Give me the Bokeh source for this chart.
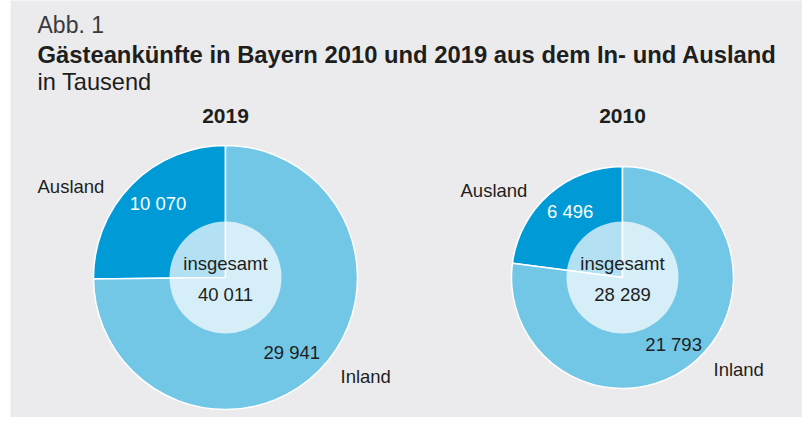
import math
from bokeh.plotting import figure
from bokeh.models import Range1d
from bokeh.embed import file_html
from bokeh.resources import INLINE
from bokeh.core.properties import value

# ---- data ----
years = ["2019", "2010"]
ausland = [10070, 6496]
inland = [29941, 21793]
totals = [40011, 28289]
categories = ["Ausland", "Inland"]
center_word = "insgesamt"
fig_label = "Abb. 1"
title = "Gästeankünfte in Bayern 2010 und 2019 aus dem In- und Ausland"
subtitle = "in Tausend"

# ---- layout ----
W, H = 802, 417
LEFT = 10
BG = "#ebebed"
C_AUS = "#009bd6"
C_IN = "#72c6e6"
TXT = "#1e1e1c"
FONT = "Liberation Sans"

def Y(py):
    return H - py

def fmt(n):
    return f"{n:,}".replace(",", " ")

centers_x = [225, 622]
center_py = 277
R_MAX = 132
R_IN = 56
max_total = max(totals)

p = figure(width=W, height=H, x_range=Range1d(LEFT, W), y_range=Range1d(0, H),
           output_backend="svg", toolbar_location=None, min_border=0)
p.min_border_left = LEFT
p.axis.visible = False
p.grid.visible = False
p.outline_line_color = None
p.background_fill_color = BG
p.border_fill_color = "white"

def txt(x, py, s, size, color=TXT, align="left", bold=False, baseline="alphabetic"):
    p.text(x=[x], y=[Y(py)], text=[s], text_font=value(FONT),
           text_font_size=f"{size}px", text_color=color, text_align=align,
           text_baseline=baseline, text_font_style="bold" if bold else "normal")

# header
txt(37, 24, fig_label, 23, color="#3a3a3a")
txt(37, 54, title, 23.8, bold=True)
txt(37, 81, subtitle, 23.6)

# label positions (layout)
cat_pos = {
    0: {"Ausland": (37, 186), "Inland": (340, 376)},
    1: {"Ausland": (460, 190), "Inland": (713, 369)},
}

for i, yr in enumerate(years):
    cx = centers_x[i]
    cy = Y(center_py)
    R = R_MAX * math.sqrt(totals[i] / max_total)
    frac = ausland[i] / (ausland[i] + inland[i])
    a0 = math.pi / 2
    a1 = a0 + 2 * math.pi * frac
    a2 = a0 + 2 * math.pi
    p.wedge(x=[cx, cx], y=[cy, cy], radius=R,
            start_angle=[a0, a1], end_angle=[a1, a2],
            fill_color=[C_AUS, C_IN], line_color="white", line_width=1.5)
    p.scatter(x=[cx], y=[cy], size=2 * R_IN, marker="circle",
              fill_color="white", fill_alpha=0.7, line_color=None)

    # year heading
    txt(cx, 115, yr, 21, bold=True, align="center")
    # center labels
    txt(cx, center_py - 14, center_word, 18.5, align="center", baseline="middle")
    txt(cx, center_py + 17, fmt(totals[i]), 18.5, align="center", baseline="middle")

    # value labels on wedges
    rl = 0.76 * R
    ma = (a0 + a1) / 2 - math.radians(3)
    mi = (a1 + a2) / 2 - math.radians(4)
    p.text(x=[cx + rl * math.cos(ma)], y=[cy + rl * math.sin(ma)], text=[fmt(ausland[i])],
           text_font=value(FONT), text_font_size="18.5px", text_color="white",
           text_align="center", text_baseline="middle")
    p.text(x=[cx + rl * math.cos(mi)], y=[cy + rl * math.sin(mi)], text=[fmt(inland[i])],
           text_font=value(FONT), text_font_size="18.5px", text_color=TXT,
           text_align="center", text_baseline="middle")

    # category labels
    for cat in categories:
        lx, ly = cat_pos[i][cat]
        txt(lx, ly, cat, 18.5)

open("out.html", "w").write(file_html(p, INLINE))
